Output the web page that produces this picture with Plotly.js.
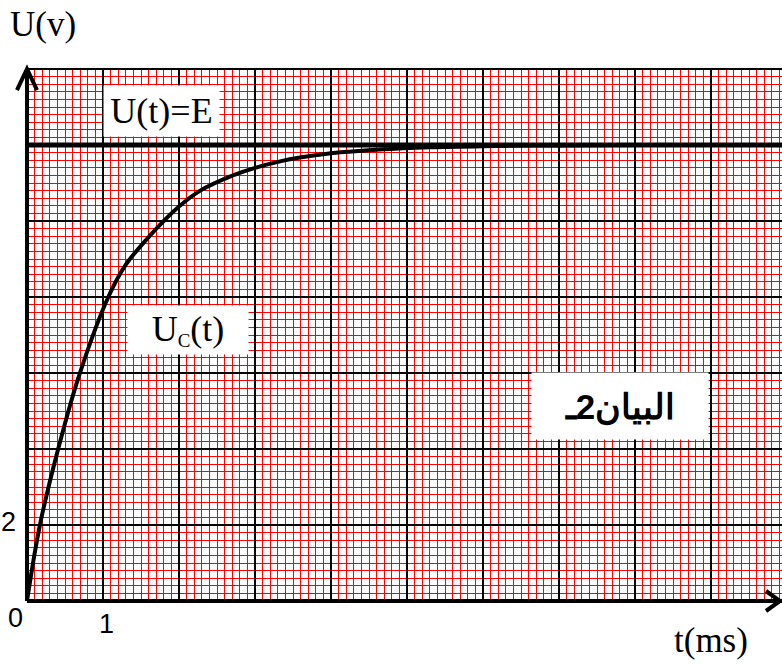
<!DOCTYPE html>
<html>
<head>
<meta charset="utf-8">
<script src="https://cdn.plot.ly/plotly-3.0.1.min.js"></script>
<style>
  html, body { margin: 0; padding: 0; background: #ffffff; }
  #chart { width: 782px; height: 664px; }
</style>
</head>
<body>
<div id="chart"></div>
<script>
// Capacitor charging: time (ms) and voltage (V)
const timeMs = [0, 0.17, 0.41, 0.68, 1.07, 1.3, 1.62, 2.0, 2.28, 2.71, 3.0, 3.33, 3.59, 4.0, 4.64, 5.3, 6.0, 7.0, 8.0, 9.0, 9.93];
const voltageUc = [0, 2, 4, 5.9, 8.0, 8.85, 9.62, 10.38, 10.8, 11.2, 11.4, 11.57, 11.67, 11.78, 11.88, 11.94, 11.97, 11.99, 12, 12, 12];

// Generator voltage E (constant)
const supplyTime = [0, 9.934];
const supplyVoltage = [12, 12];

// Axis tick labels
const xTickValues = [0, 1];
const xTickLabels = ['0', '1'];
const yTickValues = [2];
const yTickLabels = ['2'];

const serif = 'Liberation Serif, Times New Roman, serif';
const sans = 'Liberation Sans, Arial, sans-serif';
const tickFont = { family: sans, size: 27, color: '#000000' };

const traces = [
  {
    x: supplyTime, y: supplyVoltage, mode: 'lines',
    line: { color: '#000000', width: 5 },
    hoverinfo: 'skip', showlegend: false
  },
  {
    x: timeMs, y: voltageUc, mode: 'lines',
    line: { color: '#000000', width: 4, shape: 'spline', smoothing: 1 },
    hoverinfo: 'skip', showlegend: false
  }
];

// tick labels sit just outside the axes, at their data positions
const tickAnnotations = [];
xTickValues.forEach(function (v, i) {
  const atOrigin = v === 0;
  tickAnnotations.push({
    x: v, y: 0, xref: 'x', yref: 'y', text: xTickLabels[i], showarrow: false,
    xanchor: atOrigin ? 'right' : 'center', yanchor: 'top',
    xshift: atOrigin ? -2 : 3, yshift: atOrigin ? 0 : -6,
    font: tickFont
  });
});
yTickValues.forEach(function (v, i) {
  tickAnnotations.push({
    x: 0, y: v, xref: 'x', yref: 'y', text: yTickLabels[i], showarrow: false,
    xanchor: 'right', yanchor: 'middle', xshift: -9, yshift: 3,
    font: tickFont
  });
});

const layout = {
  width: 782, height: 664,
  margin: { l: 27, r: 0, t: 69, b: 63, pad: 0 },
  paper_bgcolor: '#ffffff', plot_bgcolor: '#ffffff',
  showlegend: false,
  xaxis: {
    range: [0, 9.934], dtick: 1, tick0: 0,
    showgrid: true, gridcolor: '#000000', gridwidth: 2,
    minor: { dtick: 0.1, showgrid: true, gridcolor: '#ff0000', gridwidth: 1 },
    showticklabels: false, ticks: '', zeroline: false, showline: false, fixedrange: true
  },
  yaxis: {
    range: [0, 14], dtick: 2, tick0: 0,
    showgrid: true, gridcolor: '#000000', gridwidth: 2,
    minor: { dtick: 0.2, showgrid: true, gridcolor: '#ff0000', gridwidth: 1 },
    showticklabels: false, ticks: '', zeroline: false, showline: false, fixedrange: true
  },
  shapes: [
    // axes
    { type: 'line', xref: 'paper', yref: 'paper', x0: 0, y0: 0, x1: 1, y1: 0,
      line: { color: '#000000', width: 4 }, layer: 'above' },
    { type: 'line', xref: 'paper', yref: 'paper', x0: 0, y0: 0, x1: 0, y1: 1,
      line: { color: '#000000', width: 4 }, layer: 'above' },
    // top border
    { type: 'line', xref: 'paper', yref: 'paper', x0: 0, y0: 1, x1: 1, y1: 1,
      line: { color: '#000000', width: 2 }, layer: 'above' },
    // arrow heads
    { type: 'path', xref: 'paper', yref: 'paper',
      path: 'M -0.0133,0.9605 L 0,1 L 0.0133,0.9605',
      line: { color: '#000000', width: 4 }, layer: 'above' },
    { type: 'path', xref: 'paper', yref: 'paper',
      path: 'M 0.9788,0.0188 L 0.9974,0 L 0.9788,-0.0188',
      line: { color: '#000000', width: 4 }, layer: 'above' }
  ],
  annotations: [
    { xref: 'paper', yref: 'paper', x: 0.021, y: 1.083, text: 'U(v)', showarrow: false,
      xanchor: 'center', yanchor: 'middle',
      font: { family: serif, size: 35, color: '#000000' } },
    { xref: 'paper', yref: 'paper', x: 0.906, y: -0.074, text: 't(ms)', showarrow: false,
      xanchor: 'center', yanchor: 'middle',
      font: { family: serif, size: 35, color: '#000000' } },
    { xref: 'x', yref: 'y', x: 1.77, y: 12.89, text: 'U(t)=E', showarrow: false,
      xanchor: 'center', yanchor: 'middle', bgcolor: '#ffffff', width: 115, height: 50, borderpad: 0,
      font: { family: serif, size: 36, color: '#000000' } },
    { xref: 'x', yref: 'y', x: 2.12, y: 7.13,
      text: '<span style="font-size:36px">U</span><sub>C</sub><span style="font-size:36px">(t)</span>',
      showarrow: false,
      xanchor: 'center', yanchor: 'middle', bgcolor: '#ffffff', width: 120, height: 48, borderpad: 0,
      font: { family: serif, size: 27, color: '#000000' } },
    { xref: 'x', yref: 'y', x: 7.80, y: 5.12, text: 'البيان2ـ', showarrow: false,
      xanchor: 'center', yanchor: 'middle', bgcolor: '#ffffff', width: 176, height: 66, borderpad: 0,
      font: { family: sans, size: 35, color: '#000000', weight: 'bold' } }
  ].concat(tickAnnotations)
};

Plotly.newPlot('chart', traces, layout, { staticPlot: true, displayModeBar: false });
</script>
</body>
</html>
